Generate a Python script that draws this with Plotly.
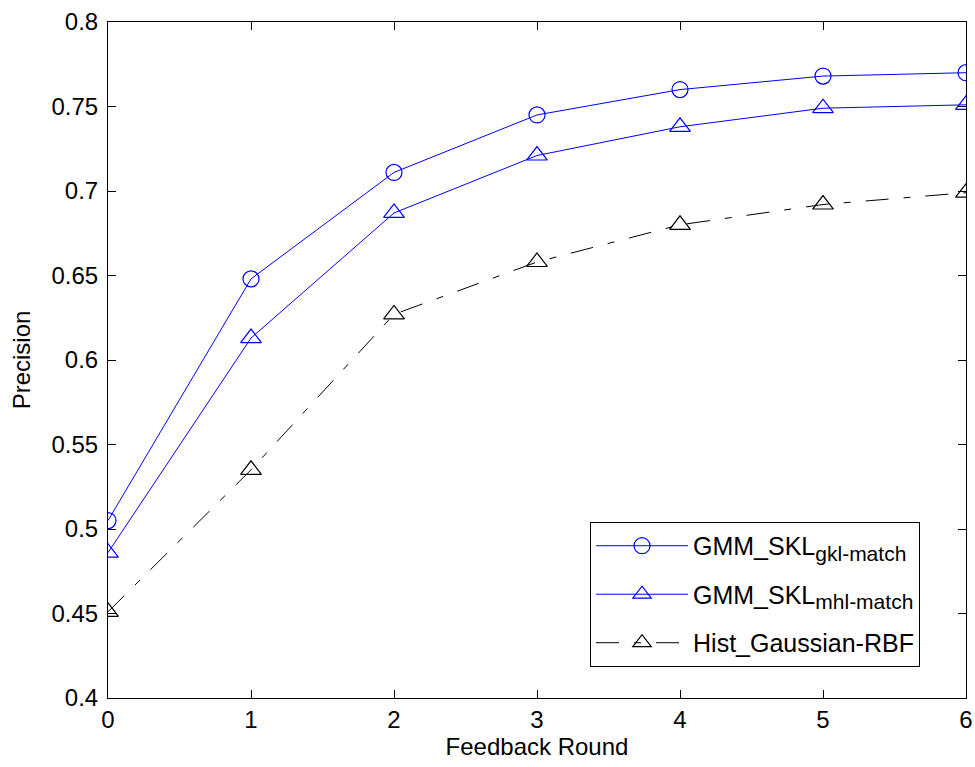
import plotly.graph_objects as go

rounds = [0, 1, 2, 3, 4, 5, 6]
gkl_match = [0.505, 0.648, 0.711, 0.745, 0.760, 0.768, 0.770]
mhl_match = [0.486, 0.613, 0.687, 0.721, 0.738, 0.749, 0.751]
hist_rbf = [0.451, 0.535, 0.627, 0.658, 0.680, 0.692, 0.699]

y_ticks = [0.4, 0.45, 0.5, 0.55, 0.6, 0.65, 0.7, 0.75, 0.8]
y_ticktext = ["0.4", "0.45", "0.5", "0.55", "0.6", "0.65", "0.7", "0.75", "0.8"]
x_ticks = [0, 1, 2, 3, 4, 5, 6]

names = [
    'GMM_SKL<sub><span style="font-size:21px">gkl-match</span></sub>',
    'GMM_SKL<sub><span style="font-size:21px">mhl-match</span></sub>',
    'Hist_Gaussian-RBF',
]

FONT = "Liberation Sans, Arial, sans-serif"

fig = go.Figure()
fig.add_trace(go.Scatter(
    x=rounds, y=gkl_match, name=names[0], mode="lines+markers", legendgroup="a",
    line=dict(color="#0000FF", width=1),
    marker=dict(symbol="circle-open", size=16, color="#0000FF", line=dict(width=1.2)),
))
fig.add_trace(go.Scatter(
    x=rounds, y=mhl_match, name=names[1], mode="lines+markers", legendgroup="b",
    line=dict(color="#0000FF", width=1),
    marker=dict(symbol="triangle-up-open", size=18, color="#0000FF", line=dict(width=1.2)),
))
fig.add_trace(go.Scatter(
    x=rounds, y=hist_rbf, name=names[2], mode="lines+markers", legendgroup="c",
    line=dict(color="#000000", width=1, dash="23px,15px,7px,15px"),
    marker=dict(symbol="triangle-up-open", size=18, color="#000000", line=dict(width=1.2)),
))

axis_common = dict(
    showline=True, linecolor="black", linewidth=1, mirror="ticks",
    ticks="inside", ticklen=8, tickcolor="black", tickwidth=1,
    showgrid=False, zeroline=False, automargin=False,
    tickfont=dict(family=FONT, size=24, color="black"),
)

fig.update_layout(
    width=975, height=767,
    margin=dict(l=108, r=9, t=22, b=69),
    paper_bgcolor="white", plot_bgcolor="white",
    font=dict(family=FONT, size=24, color="black"),
    xaxis=dict(
        range=[0, 6], tickvals=x_ticks, ticktext=[str(v) for v in x_ticks],
        title=dict(text="Feedback Round", font=dict(family=FONT, size=24), standoff=6),
        **axis_common,
    ),
    yaxis=dict(
        range=[0.4, 0.8], tickvals=y_ticks, ticktext=y_ticktext,
        ticklabelstandoff=4,
        title=dict(text="Precision", font=dict(family=FONT, size=24), standoff=14),
        **axis_common,
    ),
    legend=dict(
        x=0.5618, y=0.0459, xanchor="left", yanchor="bottom",
        bgcolor="white", bordercolor="black", borderwidth=1,
        font=dict(family=FONT, size=25, color="black"),
        itemwidth=92, tracegroupgap=13,
    ),
    showlegend=True,
)

fig.write_html(
    "out.html",
    config={"displayModeBar": False},
    post_script="document.body.style.margin='0';document.body.style.overflow='hidden';",
)
